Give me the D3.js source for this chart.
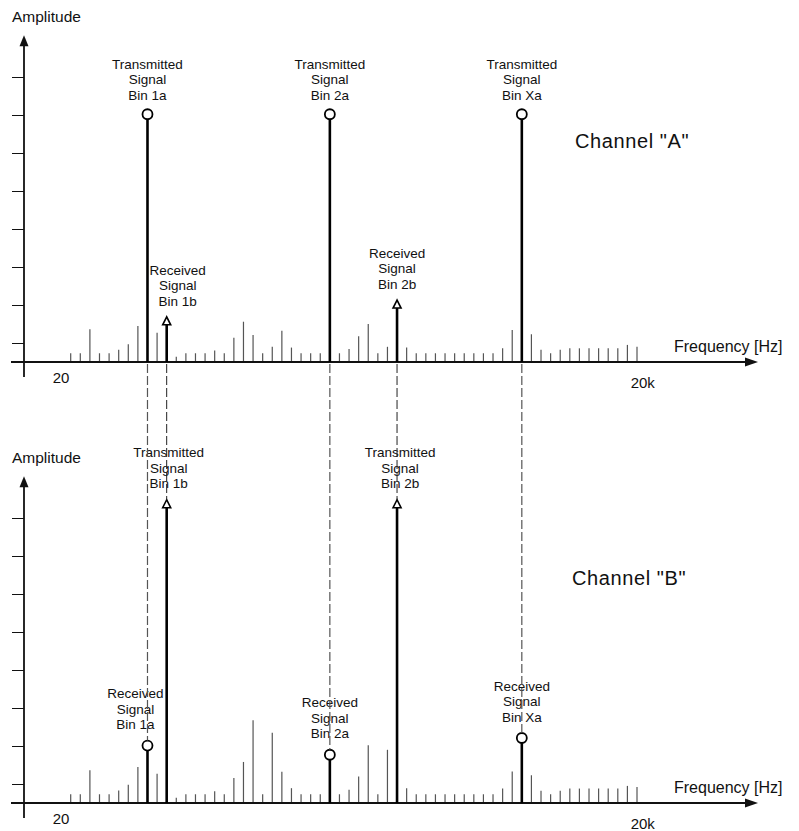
<!DOCTYPE html>
<html>
<head>
<meta charset="utf-8">
<script src="https://cdn.jsdelivr.net/npm/d3@7"></script>
<style>
  body { margin: 0; background: #fff; }
  svg { display: block; }
  text { font-family: "Liberation Sans", Arial, sans-serif; fill: #111; }
</style>
</head>
<body>
<div id="viz"></div>
<script>
// frequency bins along the x axis
const bins = d3.range(60)

// background noise per bin (null where a signal stem sits)
const noiseA = [2.3, 2.3, 8.6, 2.3, 2.3, 3.2, 4.7, 9.5, null, 7.7,
  null, 1.4, 2.3, 2.3, 2.3, 3.0, 2.3, 6.4, 10.6, 7.1,
  2.3, 4.0, 8.2, 3.8, 2.3, 2.3, 2.3, null, 2.3, 3.4,
  6.8, 10.0, 2.3, 4.0, null, 3.8, 2.3, 2.3, 2.3, 2.3,
  2.3, 2.3, 2.3, 2.3, 2.3, 3.6, 8.4, null, 7.3, 3.2,
  2.3, 3.2, 3.6, 3.6, 3.6, 3.6, 3.6, 3.6, 4.5, 4.0]

const noiseB = [2.3, 2.3, 8.6, 2.3, 2.3, 3.3, 4.8, 9.5, null, 7.7,
  null, 1.4, 2.3, 2.3, 2.3, 3.1, 2.3, 6.6, 10.8, 21.8,
  2.3, 18.5, 8.2, 3.9, 2.3, 2.3, 2.3, null, 2.3, 3.5,
  7.0, 15.2, 2.3, 14.0, null, 3.9, 2.3, 2.3, 2.3, 2.3,
  2.3, 2.3, 2.3, 2.3, 2.3, 3.8, 8.3, null, 7.3, 3.2,
  2.3, 3.2, 3.8, 3.8, 3.8, 3.8, 3.8, 3.8, 4.5, 4.2]

// signal bins shared by both channels
const signalNames = ["1a", "1b", "2a", "2b", "Xa"]
const signalBins = [8, 10, 27, 34, 47]

// channel A: transmits the "a" bins, receives the "b" bins
const aTxNames = ["1a", "2a", "Xa"]
const aTxAmp = [65.2, 65.2, 65.2]
const aRxNames = ["1b", "2b"]
const aRxAmp = [11.9, 16.3]

// channel B: transmits the "b" bins, receives the "a" bins
const bTxNames = ["1b", "2b"]
const bTxAmp = [79.8, 79.8]
const bRxNames = ["1a", "2a", "Xa"]
const bRxAmp = [15.1, 12.7, 17.1]

const ampTicks = [5, 15, 25, 35, 45, 55, 65, 75]
const xTickLabels = ["20", "20k"]
const xTickBins = [-1, 59.6]

let w = 799
let h = 831

const svg = d3.select("#viz")
  .append("svg")
  .attr("width", w)
  .attr("height", h)

const xScale = d3.scaleLinear()
  .domain([0, 59])
  .range([70.7, 637])

const pxPerUnit = 3.8
const yA = d3.scaleLinear().domain([0, 86]).range([362, 362 - 86 * pxPerUnit])
const yB = d3.scaleLinear().domain([0, 86]).range([803, 803 - 86 * pxPerUnit])

const circleR = 5
const triH = 8
const lineGap = 15.5

function buildMarkers(names, amps, kind) {
  return names.map((n, i) => ({
    name: n,
    bin: signalBins[signalNames.indexOf(n)],
    amp: amps[i],
    kind: kind,
    shape: n.endsWith("a") ? "circle" : "triangle"
  }))
}

const markersA = buildMarkers(aTxNames, aTxAmp, "Transmitted")
  .concat(buildMarkers(aRxNames, aRxAmp, "Received"))
const markersB = buildMarkers(bTxNames, bTxAmp, "Transmitted")
  .concat(buildMarkers(bRxNames, bRxAmp, "Received"))

// small label nudges seen in the original drawing
const labelDx = { "A1b": 11, "B1a": -12, "B1b": 2, "B2b": 3 }

// top of marker (used for the dashed connectors)
function markerTop(m, yScale) {
  return m.shape === "circle" ? yScale(m.amp) - circleR : yScale(m.amp)
}

function drawChannel(yScale, noise, markers, chan, title, titlePos) {
  const g = svg.append("g")
  const base = yScale(0)

  // noise stems
  g.append("g").selectAll("line")
    .data(bins.filter(i => noise[i] != null))
    .enter()
    .append("line")
    .attr("x1", i => xScale(i))
    .attr("x2", i => xScale(i))
    .attr("y1", base)
    .attr("y2", i => yScale(noise[i]))
    .attr("stroke", "#555")
    .attr("stroke-width", 1.2)

  // y ticks
  const yAx = g.append("g")
    .attr("transform", "translate(24,0)")
    .call(d3.axisLeft(yScale).tickValues(ampTicks).tickSize(12).tickFormat(""))
  yAx.select(".domain").remove()
  yAx.selectAll("line").attr("stroke", "#111").attr("stroke-width", 1)

  // y axis with arrow
  const tipY = yScale(86)
  g.append("line")
    .attr("x1", 24).attr("x2", 24)
    .attr("y1", base + 15).attr("y2", tipY + 8)
    .attr("stroke", "#111").attr("stroke-width", 1.8)
  g.append("path")
    .attr("d", `M24,${tipY} L19.5,${tipY + 11} L28.5,${tipY + 11} Z`)
    .attr("fill", "#111")

  // x axis with arrow
  g.append("line")
    .attr("x1", 11).attr("x2", 748)
    .attr("y1", base).attr("y2", base)
    .attr("stroke", "#111").attr("stroke-width", 1.8)
  g.append("path")
    .attr("d", `M758,${base} L745,${base - 4.5} L745,${base + 4.5} Z`)
    .attr("fill", "#111")

  // x tick labels
  g.selectAll("text.xt")
    .data(xTickLabels)
    .enter()
    .append("text")
    .attr("class", "xt")
    .attr("x", (d, i) => xScale(xTickBins[i]))
    .attr("y", (d, i) => base + (i === 0 ? 16 : 21))
    .attr("dy", "0.35em")
    .attr("text-anchor", "middle")
    .attr("font-size", 15)
    .text(d => d)

  // axis titles
  g.append("text")
    .attr("x", 12).attr("y", tipY - 19)
    .attr("dy", "0.35em")
    .attr("font-size", 15.5)
    .text("Amplitude")
  g.append("text")
    .attr("x", 674).attr("y", base - 16)
    .attr("dy", "0.35em")
    .attr("font-size", 16)
    .text("Frequency [Hz]")

  // channel name
  g.append("text")
    .attr("x", titlePos[0]).attr("y", titlePos[1])
    .attr("dy", "0.35em")
    .attr("font-size", 20)
    .attr("letter-spacing", 0.6)
    .text(title)

  // signal stems
  g.append("g").selectAll("line")
    .data(markers)
    .enter()
    .append("line")
    .attr("x1", d => xScale(d.bin))
    .attr("x2", d => xScale(d.bin))
    .attr("y1", base)
    .attr("y2", d => d.shape === "circle" ? yScale(d.amp) + circleR : yScale(d.amp) + triH)
    .attr("stroke", "#000")
    .attr("stroke-width", 2.6)

  // circle markers
  g.append("g").selectAll("circle")
    .data(markers.filter(d => d.shape === "circle"))
    .enter()
    .append("circle")
    .attr("cx", d => xScale(d.bin))
    .attr("cy", d => yScale(d.amp))
    .attr("r", circleR)
    .attr("fill", "#fff")
    .attr("stroke", "#000")
    .attr("stroke-width", 1.8)

  // triangle markers
  g.append("g").selectAll("path")
    .data(markers.filter(d => d.shape === "triangle"))
    .enter()
    .append("path")
    .attr("d", d => {
      let x = xScale(d.bin), y = yScale(d.amp)
      return `M${x},${y} L${x - 4},${y + triH} L${x + 4},${y + triH} Z`
    })
    .attr("fill", "#fff")
    .attr("stroke", "#000")
    .attr("stroke-width", 1.6)

  // labels (3 lines above each marker)
  markers.forEach(m => {
    let x = xScale(m.bin) + (labelDx[chan + m.name] || 0)
    let gap = m.shape === "circle" ? (m.kind === "Transmitted" ? 19 : 21) : 16
    let yLast = yScale(m.amp) - gap
    let lines = [m.kind, "Signal", "Bin " + m.name]
    g.append("g").selectAll("text")
      .data(lines)
      .enter()
      .append("text")
      .attr("x", x)
      .attr("y", (d, i) => yLast - (2 - i) * lineGap)
      .attr("dy", "0.35em")
      .attr("text-anchor", "middle")
      .attr("font-size", 13.5)
      .text(d => d)
  })
}

drawChannel(yA, noiseA, markersA, "A", 'Channel "A"', [575, 141])
drawChannel(yB, noiseB, markersB, "B", 'Channel "B"', [572, 578])

// dashed connectors from channel A baseline down to the channel B markers
let dashGroup = svg.append("g")
dashGroup.selectAll("line")
  .data(markersB)
  .enter()
  .append("line")
  .attr("x1", d => xScale(d.bin))
  .attr("x2", d => xScale(d.bin))
  .attr("y1", yA(0) + 2)
  .attr("y2", d => markerTop(d, yB))
  .attr("stroke", d => d.shape === "circle" ? "#555" : "#222")
  .attr("stroke-width", d => d.shape === "circle" ? 1.2 : 1)
  .attr("stroke-dasharray", "9,3")
</script>
</body>
</html>
